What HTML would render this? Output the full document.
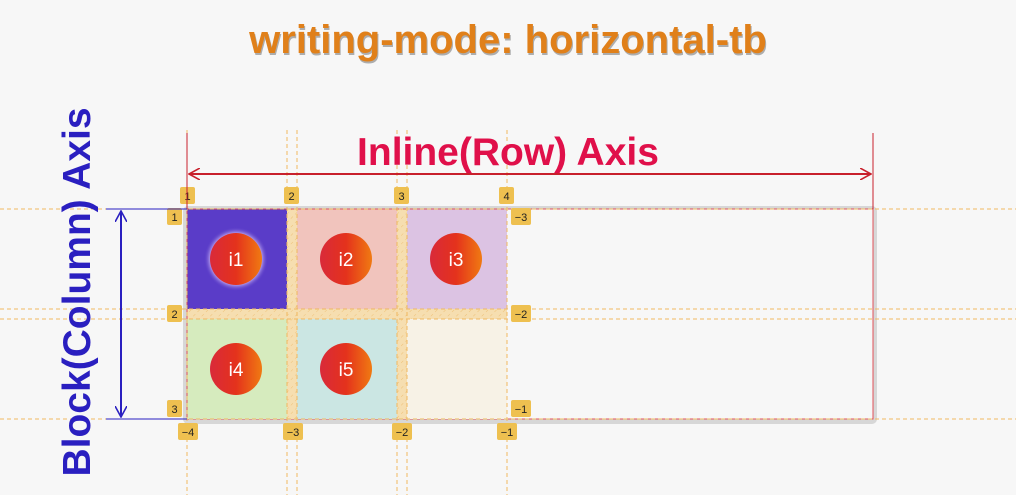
<!DOCTYPE html>
<html><head><meta charset="utf-8"><style>
html,body{margin:0;padding:0;background:#f7f7f7;}
svg{display:block;font-family:"Liberation Sans",sans-serif;}
</style></head><body>
<svg width="1016" height="495" viewBox="0 0 1016 495">
<defs>
<linearGradient id="cg" x1="0" x2="1" y1="0" y2="0"><stop offset="0" stop-color="#d92a3a"/><stop offset="0.5" stop-color="#e4321c"/><stop offset="1" stop-color="#f07a12"/></linearGradient>
<radialGradient id="glow"><stop offset="0.8" stop-color="#c0a8f0" stop-opacity="0.9"/><stop offset="1" stop-color="#5a3cc8" stop-opacity="0"/></radialGradient>
<pattern id="hatch" width="6" height="6" patternUnits="userSpaceOnUse" patternTransform="rotate(45)"><rect width="6" height="6" fill="#f6deb0"/><line x1="0" y1="0" x2="0" y2="3" stroke="#eec27a" stroke-width="1"/></pattern>
<marker id="ar" markerWidth="12" markerHeight="12" refX="11" refY="6" orient="auto-start-reverse" markerUnits="userSpaceOnUse"><path d="M0,0 L11,6 L0,12" fill="none" stroke="#c8202c" stroke-width="1.6"/></marker>
<marker id="ab" markerWidth="12" markerHeight="12" refX="11" refY="6" orient="auto-start-reverse" markerUnits="userSpaceOnUse"><path d="M0,0 L11,6 L0,12" fill="none" stroke="#2a1fc0" stroke-width="1.6"/></marker>
</defs>
<text x="509" y="55" text-anchor="middle" font-size="40" font-weight="bold" fill="#555" opacity="0.45">writing-mode: horizontal-tb</text>
<text x="508" y="53" text-anchor="middle" font-size="40" font-weight="bold" fill="#e0801a">writing-mode: horizontal-tb</text>

<rect x="183" y="206" width="694" height="218" rx="5" fill="#d7d7d7"/>
<rect x="187" y="209" width="686" height="210" fill="#f7f7f7" stroke="#e0505a" stroke-width="1"/>
<rect x="187" y="209" width="320" height="210" fill="url(#hatch)"/>
<rect x="187" y="209" width="100" height="100" fill="#5a3cc8"/>
<rect x="297" y="209" width="100" height="100" fill="#f1c4bd"/>
<rect x="407" y="209" width="100" height="100" fill="#dcc3e3"/>
<rect x="187" y="319" width="100" height="100" fill="#d6ebbe"/>
<rect x="297" y="319" width="100" height="100" fill="#cbe6e3"/>
<rect x="407" y="319" width="100" height="100" fill="#f7f2e6"/>
<line x1="187" y1="209" x2="873" y2="209" stroke="#e0505a"/>
<line x1="187" y1="209" x2="187" y2="419" stroke="#e0505a"/>

<g stroke="#f0b860" stroke-width="1" stroke-dasharray="4,3">
<line x1="0" y1="209" x2="1016" y2="209"/><line x1="0" y1="309" x2="1016" y2="309"/>
<line x1="0" y1="319" x2="1016" y2="319"/><line x1="0" y1="419" x2="1016" y2="419"/>
<line x1="187" y1="130" x2="187" y2="495"/><line x1="287" y1="130" x2="287" y2="495"/>
<line x1="297" y1="130" x2="297" y2="495"/><line x1="397" y1="130" x2="397" y2="495"/>
<line x1="407" y1="130" x2="407" y2="495"/><line x1="507" y1="130" x2="507" y2="495"/>
</g>

<g font-size="19" fill="#fff" text-anchor="middle">
<circle cx="236" cy="259" r="32" fill="url(#glow)"/>
<circle cx="236" cy="259" r="26" fill="url(#cg)"/><text x="236" y="266">i1</text>
<circle cx="346" cy="259" r="26" fill="url(#cg)"/><text x="346" y="266">i2</text>
<circle cx="456" cy="259" r="26" fill="url(#cg)"/><text x="456" y="266">i3</text>
<circle cx="236" cy="369" r="26" fill="url(#cg)"/><text x="236" y="376">i4</text>
<circle cx="346" cy="369" r="26" fill="url(#cg)"/><text x="346" y="376">i5</text>
</g>

<g font-size="11" text-anchor="middle" fill="#222">
<rect x="180" y="187" width="15" height="17" rx="2" fill="#eec050"/><text x="187.5" y="200">1</text>
<rect x="284" y="187" width="15" height="17" rx="2" fill="#eec050"/><text x="291.5" y="200">2</text>
<rect x="394" y="187" width="15" height="17" rx="2" fill="#eec050"/><text x="401.5" y="200">3</text>
<rect x="499" y="187" width="15" height="17" rx="2" fill="#eec050"/><text x="506.5" y="200">4</text>
<rect x="167" y="208" width="15" height="17" rx="2" fill="#eec050"/><text x="174.5" y="221">1</text>
<rect x="167" y="305" width="15" height="17" rx="2" fill="#eec050"/><text x="174.5" y="318">2</text>
<rect x="167" y="400" width="15" height="17" rx="2" fill="#eec050"/><text x="174.5" y="413">3</text>
<rect x="511" y="208" width="20" height="17" rx="2" fill="#eec050"/><text x="521" y="221">−3</text>
<rect x="511" y="305" width="20" height="17" rx="2" fill="#eec050"/><text x="521" y="318">−2</text>
<rect x="511" y="400" width="20" height="17" rx="2" fill="#eec050"/><text x="521" y="413">−1</text>
<rect x="178" y="423" width="20" height="17" rx="2" fill="#eec050"/><text x="188" y="436">−4</text>
<rect x="283" y="423" width="20" height="17" rx="2" fill="#eec050"/><text x="293" y="436">−3</text>
<rect x="392" y="423" width="20" height="17" rx="2" fill="#eec050"/><text x="402" y="436">−2</text>
<rect x="497" y="423" width="20" height="17" rx="2" fill="#eec050"/><text x="507" y="436">−1</text>
</g>

<line x1="187" y1="133" x2="187" y2="209" stroke="#c8202c"/>
<line x1="873" y1="133" x2="873" y2="209" stroke="#c8202c"/>
<line x1="189" y1="174" x2="871" y2="174" stroke="#c8202c" stroke-width="2" marker-start="url(#ar)" marker-end="url(#ar)"/>
<text x="508" y="165" text-anchor="middle" font-size="39" font-weight="bold" fill="#e0104a">Inline(Row) Axis</text>

<line x1="106" y1="209" x2="187" y2="209" stroke="#2a1fc0"/>
<line x1="106" y1="419" x2="187" y2="419" stroke="#2a1fc0"/>
<line x1="121" y1="211" x2="121" y2="417" stroke="#2a1fc0" stroke-width="2" marker-start="url(#ab)" marker-end="url(#ab)"/>
<text transform="translate(90,292) rotate(-90)" text-anchor="middle" font-size="39" font-weight="bold" fill="#2a1fc0">Block(Column) Axis</text>
</svg>
</body></html>
